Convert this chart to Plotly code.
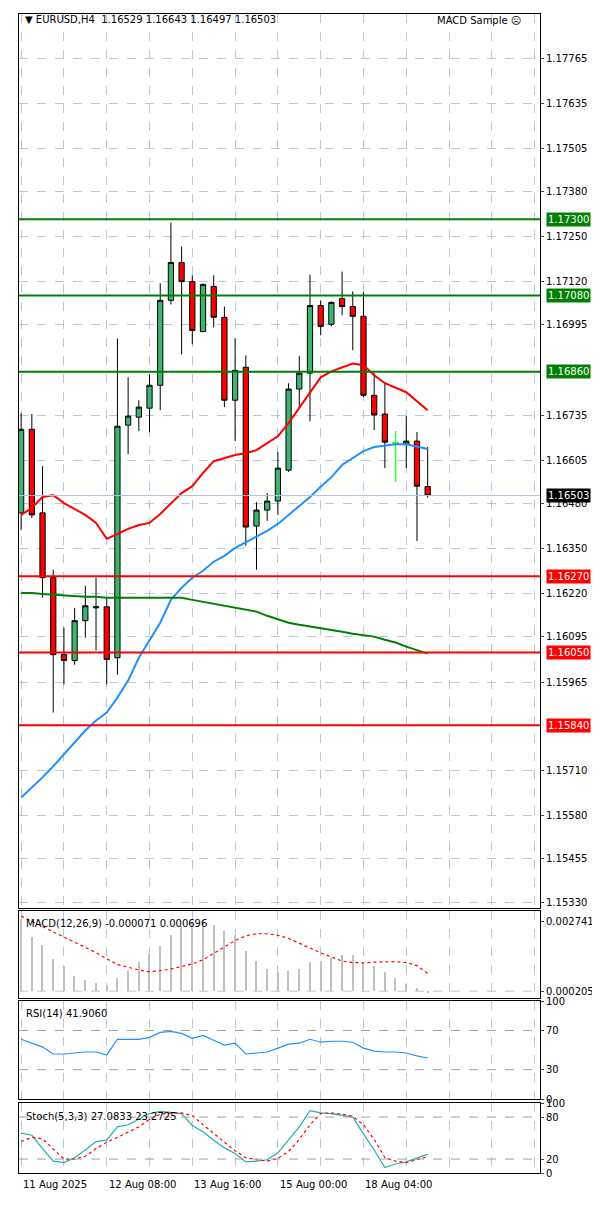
import plotly.graph_objects as go
from plotly.subplots import make_subplots

# EURUSD H4 candles
opens = [1.16453, 1.16694, 1.16453, 1.16266, 1.16044, 1.16027, 1.16142, 1.16179, 1.16182, 1.16035,
         1.16706, 1.16729, 1.16755, 1.16821, 1.17066, 1.17175, 1.17120, 1.16976, 1.17106, 1.17017,
         1.16778, 1.16873, 1.16415, 1.16461, 1.16487, 1.16576, 1.16810, 1.16856, 1.17051, 1.16997,
         1.17071, 1.17048, 1.17020, 1.16792, 1.16738, 1.16654, 1.16651, 1.16660, 1.16529]
highs = [1.16740, 1.16738, 1.16588, 1.16289, 1.16122, 1.16179, 1.16243, 1.16266, 1.16208, 1.16956,
         1.16844, 1.16778, 1.16853, 1.17115, 1.17290, 1.17221, 1.17138, 1.17115, 1.17138, 1.17048,
         1.16956, 1.16907, 1.16484, 1.16510, 1.16628, 1.16827, 1.16905, 1.17140, 1.17066, 1.17063,
         1.17149, 1.17092, 1.17089, 1.16856, 1.16830, 1.16689, 1.16732, 1.16686, 1.16643]
lows = [1.16404, 1.16438, 1.16208, 1.15877, 1.15958, 1.16015, 1.16093, 1.16056, 1.15958, 1.15986,
        1.16622, 1.16689, 1.16686, 1.16749, 1.17054, 1.16910, 1.16939, 1.16974, 1.16988, 1.16758,
        1.16660, 1.16358, 1.16289, 1.16430, 1.16447, 1.16571, 1.16758, 1.16717, 1.16965, 1.16991,
        1.17023, 1.16922, 1.16787, 1.16692, 1.16582, 1.16542, 1.16582, 1.16372, 1.16497]
closes = [1.16694, 1.16447, 1.16266, 1.16044, 1.16027, 1.16142, 1.16185, 1.16182, 1.16030, 1.16703,
          1.16732, 1.16758, 1.16821, 1.17066, 1.17175, 1.17120, 1.16979, 1.17112, 1.17017, 1.16778,
          1.16864, 1.16412, 1.16461, 1.16487, 1.16582, 1.16810, 1.16856, 1.17051, 1.16991, 1.17060,
          1.17048, 1.17020, 1.16792, 1.16735, 1.16657, 1.16655, 1.16660, 1.16530, 1.16503]
lime_bar = 35  # the bar drawn in lime

ma_red = [1.16447, 1.16467, 1.16499, 1.16504, 1.16481, 1.16464, 1.16447, 1.16424, 1.16378, 1.16392,
          1.16407, 1.16418, 1.16424, 1.16450, 1.16481, 1.16510, 1.16530, 1.16568, 1.16602, 1.16611,
          1.16620, 1.16625, 1.16634, 1.16654, 1.16674, 1.16712, 1.16755, 1.16798, 1.16844, 1.16861,
          1.16873, 1.16884, 1.16879, 1.16850, 1.16827, 1.16815, 1.16801, 1.16775, 1.16749]
ma_blue = [1.15632, 1.15661, 1.15690, 1.15722, 1.15756, 1.15791, 1.15825, 1.15854, 1.15877, 1.15920,
           1.15969, 1.16035, 1.16087, 1.16136, 1.16202, 1.16237, 1.16266, 1.16286, 1.16312, 1.16329,
           1.16352, 1.16369, 1.16386, 1.16401, 1.16421, 1.16447, 1.16473, 1.16499, 1.16528, 1.16556,
           1.16591, 1.16611, 1.16631, 1.16643, 1.16648, 1.16651, 1.16651, 1.16645, 1.16637]
ma_green = [1.16222, 1.16222, 1.16219, 1.16217, 1.16214, 1.16214, 1.16211, 1.16211, 1.16208, 1.16208,
            1.16208, 1.16208, 1.16208, 1.16208, 1.16208, 1.16208, 1.16202, 1.16196, 1.16191, 1.16185,
            1.16179, 1.16173, 1.16168, 1.16156, 1.16145, 1.16136, 1.16130, 1.16125, 1.16122, 1.16116,
            1.16110, 1.16104, 1.16101, 1.16096, 1.16087, 1.16079, 1.16067, 1.16058, 1.16047]

levels_green = [1.17300, 1.17080, 1.16860]
levels_red = [1.16270, 1.16050, 1.15840]
bid = 1.16503
price_ticks = [1.17765, 1.17635, 1.17505, 1.17380, 1.17250, 1.17120, 1.16995, 1.16735,
               1.16605, 1.16480, 1.16350, 1.16220, 1.16095, 1.15965, 1.15710, 1.15580,
               1.15455, 1.15330]

macd_main = [0.00281, 0.00211, 0.00180, 0.00124, 0.00100, 0.00060, 0.00044, 0.00033, 0.00020, 0.00051,
             0.00080, 0.00114, 0.00147, 0.00178, 0.00221, 0.00254, 0.00267, 0.00274, 0.00261, 0.00234,
             0.00221, 0.00158, 0.00120, 0.00087, 0.00074, 0.00078, 0.00087, 0.00114, 0.00120, 0.00131,
             0.00140, 0.00140, 0.00114, 0.00100, 0.00074, 0.00051, 0.00027, 0.00011, -0.00007]
macd_signal = [0.00294, 0.00274, 0.00254, 0.00234, 0.00214, 0.00194, 0.00174, 0.00151, 0.00127, 0.00104,
               0.00094, 0.00083, 0.00076, 0.00080, 0.00087, 0.00096, 0.00107, 0.00123, 0.00147, 0.00174,
               0.00198, 0.00217, 0.00225, 0.00225, 0.00219, 0.00207, 0.00187, 0.00167, 0.00150, 0.00134,
               0.00118, 0.00112, 0.00111, 0.00114, 0.00116, 0.00116, 0.00112, 0.00100, 0.00070]
rsi = [61, 57, 53, 46, 46, 47, 48, 48, 45, 61, 61, 61, 63, 68, 69, 67, 62, 65, 60, 55,
       57, 46, 47, 48, 52, 56, 57, 61, 58, 59, 59, 58, 52, 49, 48, 48, 47, 44, 41.9]
stoch_main = [57, 54, 35, 17, 15, 22, 33, 45, 47, 66, 69, 77, 85, 88, 86, 85, 68, 59, 47, 36,
              28, 16, 17, 19, 29, 47, 66, 89, 86, 85, 82, 80, 56, 33, 8, 13, 16, 22, 27.1]
stoch_signal = [45, 51, 49, 35, 20, 20, 24, 35, 44, 51, 59, 66, 77, 84, 86, 86, 82, 69, 56, 44,
                32, 22, 19, 17, 21, 31, 48, 69, 85, 86, 84, 81, 69, 48, 22, 17, 15, 19, 23.3]
date_pos = [0, 8, 16, 24, 32]
date_labels = ["11 Aug 2025", "12 Aug 08:00", "13 Aug 16:00", "15 Aug 00:00", "18 Aug 04:00"]

FONT = "DejaVu Sans"
GRID = "#b8c8dc"
n = len(opens)
x = list(range(n))
norm = [i for i in x if i != lime_bar]

fig = make_subplots(rows=4, cols=1, shared_xaxes=True)

fig.add_trace(go.Candlestick(
    x=norm, open=[opens[i] for i in norm], high=[highs[i] for i in norm],
    low=[lows[i] for i in norm], close=[closes[i] for i in norm],
    increasing=dict(line=dict(color="black", width=1), fillcolor="#3cb371"),
    decreasing=dict(line=dict(color="black", width=1), fillcolor="#ff0000"),
    whiskerwidth=0, showlegend=False, hoverinfo="skip"), row=1, col=1)
fig.add_trace(go.Candlestick(
    x=[lime_bar], open=[opens[lime_bar]], high=[highs[lime_bar]],
    low=[lows[lime_bar]], close=[closes[lime_bar]],
    increasing=dict(line=dict(color="#33ff33", width=1.5), fillcolor="#33ff33"),
    decreasing=dict(line=dict(color="#33ff33", width=1.5), fillcolor="#33ff33"),
    showlegend=False, hoverinfo="skip"), row=1, col=1)

for vals, col in [(ma_red, "#ff0000"), (ma_blue, "#1e90ff"), (ma_green, "#008000")]:
    fig.add_trace(go.Scatter(x=x, y=vals, mode="lines", line=dict(color=col, width=2),
                             showlegend=False, hoverinfo="skip"), row=1, col=1)

for lv in levels_green:
    fig.add_hline(y=lv, line=dict(color="#008000", width=2), row=1, col=1)
for lv in levels_red:
    fig.add_hline(y=lv, line=dict(color="#ff0000", width=2), row=1, col=1)
fig.add_hline(y=bid, line=dict(color="#b0c4de", width=1), row=1, col=1)

# MACD
fig.add_trace(go.Bar(x=x, y=macd_main, width=0.12, marker=dict(color="#c0c0c0", line=dict(width=0)),
                     showlegend=False, hoverinfo="skip"), row=2, col=1)
fig.add_trace(go.Scatter(x=x, y=macd_signal, mode="lines", line=dict(color="#ff0000", width=1.2, dash="dot"),
                         showlegend=False, hoverinfo="skip"), row=2, col=1)
# RSI
fig.add_trace(go.Scatter(x=x, y=rsi, mode="lines", line=dict(color="#1e90ff", width=1.2),
                         showlegend=False, hoverinfo="skip"), row=3, col=1)
# Stochastic
fig.add_trace(go.Scatter(x=x, y=stoch_main, mode="lines", line=dict(color="#20b2aa", width=1.2),
                         showlegend=False, hoverinfo="skip"), row=4, col=1)
fig.add_trace(go.Scatter(x=x, y=stoch_signal, mode="lines", line=dict(color="#ff0000", width=1.2, dash="dot"),
                         showlegend=False, hoverinfo="skip"), row=4, col=1)

H = 1207


def py(t):
    # pixel row in the target -> paper fraction (compensates the page offset seen on render)
    return 1 - max(0.0, (t - 13) / 0.99) / H


def dom(top, bottom):
    return [py(bottom), py(top)]


xdom = [11 / 600, 532 / 600]
axis_common = dict(showline=True, linecolor="black", linewidth=1, mirror=True,
                   gridcolor=GRID, griddash="dash", gridwidth=1, zeroline=False)
for i, (t, b) in enumerate([(8, 907), (910, 997), (1000, 1098), (1102, 1172)], start=1):
    fig.update_xaxes(domain=xdom, range=[-0.2, 48.5], tickvals=list(range(0, 49, 4)),
                     ticktext=[""] * 13, ticks="", showticklabels=(i == 4),
                     rangeslider=dict(visible=False), row=i, col=1, **axis_common)
    fig.update_yaxes(domain=dom(t, b), side="right", ticks="outside", ticklen=3,
                     tickfont=dict(family=FONT, size=10, color="black"), row=i, col=1, **axis_common)

PLO, PHI = 1.15313, 1.17892
fig.update_yaxes(range=[PLO, PHI], tickvals=price_ticks,
                 ticktext=[f"{v:.5f}" for v in price_ticks], row=1, col=1)
fig.update_yaxes(range=[-0.00027, 0.00314], tickvals=[0.002741, 0.0],
                 ticktext=["0.002741", "0.000205"], showgrid=False, row=2, col=1)
fig.update_yaxes(range=[0, 100], tickvals=[100, 70, 30, 0], showgrid=False, row=3, col=1)
fig.update_yaxes(range=[0, 100], tickvals=[100, 80, 20, 0], showgrid=False, row=4, col=1)
for yv in [70, 30]:
    fig.add_hline(y=yv, line=dict(color="#a0a0a0", width=1, dash="dash"), row=3, col=1)
for yv in [80, 20]:
    fig.add_hline(y=yv, line=dict(color="#a0a0a0", width=1, dash="dash"), row=4, col=1)
fig.add_hline(y=0, line=dict(color=GRID, width=1, dash="dash"), row=2, col=1)

ann = []


def text(xp, yp, s, color="black", **kw):
    ann.append(dict(x=xp, y=yp, xref="paper", yref="paper", text=s, showarrow=False,
                    xanchor="left", yanchor="middle", font=dict(family=FONT, size=10, color=color), **kw))


text(0.025, py(18), "▼ EURUSD,H4  1.16529 1.16643 1.16497 1.16503")
text(0.712, py(19), "MACD Sample ☹")
text(0.027, py(922), "MACD(12,26,9) -0.000071 0.000696")
text(0.027, py(1012), "RSI(14) 41.9060")
text(0.027, py(1115), "Stoch(5,3,3) 27.0833 23.2725")


def price_to_paper(p):
    d = dom(8, 907)
    return d[0] + (p - PLO) / (PHI - PLO) * (d[1] - d[0])


for lv in levels_green:
    text(0.896, price_to_paper(lv), f"{lv:.5f}", color="white", bgcolor="#008000", borderpad=1)
for lv in levels_red:
    text(0.896, price_to_paper(lv), f"{lv:.5f}", color="white", bgcolor="#ff0000", borderpad=1)
text(0.896, price_to_paper(bid), f"{bid:.5f}", color="white", bgcolor="black", borderpad=1)

for p, s in zip(date_pos, date_labels):
    ann.append(dict(x=p, y=py(1183), xref="x4", yref="paper", text=s, showarrow=False,
                    xanchor="left", yanchor="middle", font=dict(family=FONT, size=10, color="black")))

fig.update_layout(width=600, height=1207, margin=dict(l=0, r=0, t=0, b=0),
                  paper_bgcolor="white", plot_bgcolor="white", annotations=ann,
                  bargap=0, showlegend=False)
fig.write_html("out.html")
